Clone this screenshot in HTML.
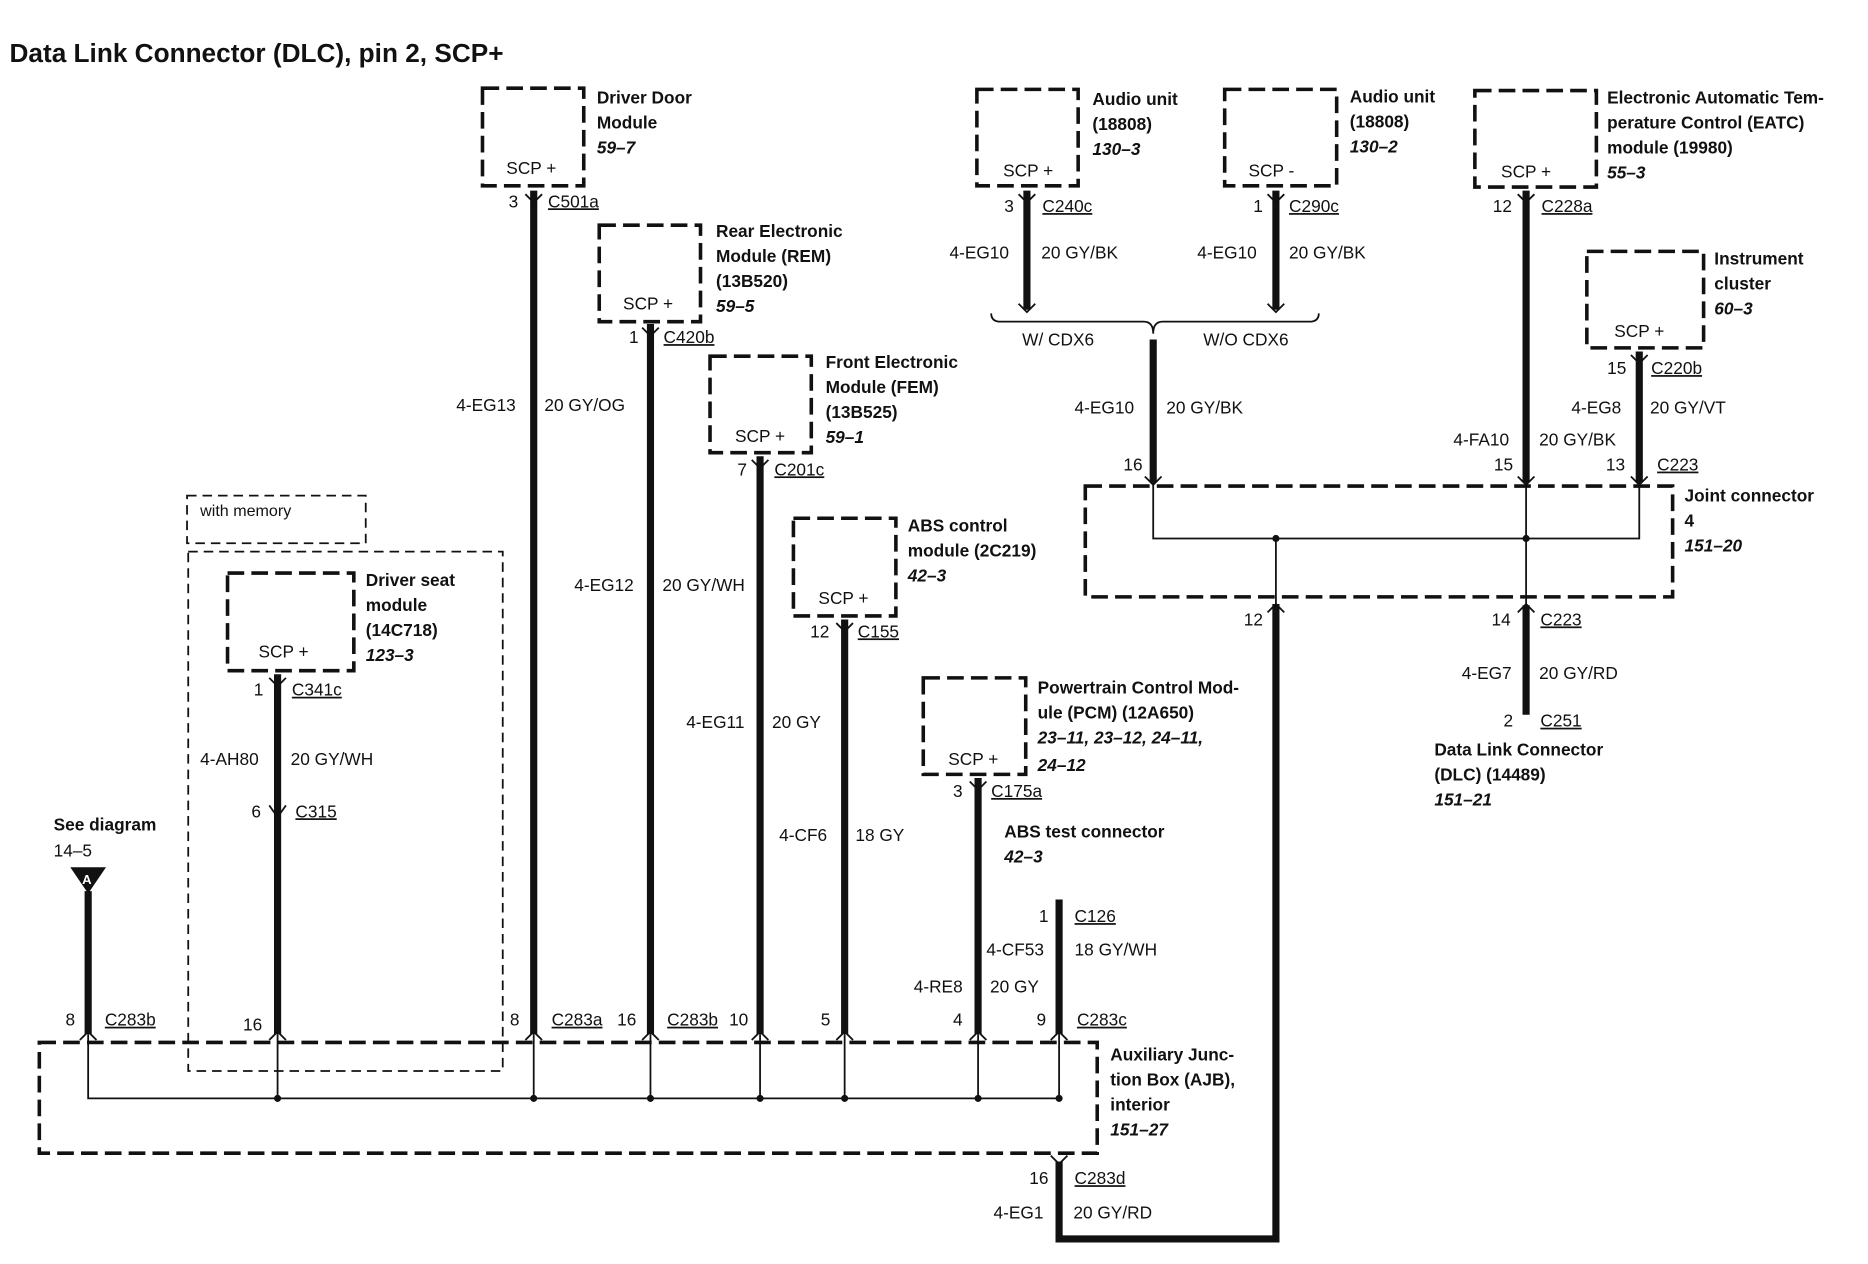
<!DOCTYPE html>
<html><head><meta charset="utf-8"><style>
html,body{margin:0;padding:0;background:#fff}
svg{display:block}
text{font-family:"Liberation Sans",Arial,sans-serif;font-size:14.5px;fill:#111}
.b{font-weight:bold;font-size:14.5px}
.i{font-weight:bold;font-style:italic}
.box{fill:none;stroke:#111;stroke-width:3;stroke-dasharray:14 6}
.thin{fill:none;stroke:#111;stroke-width:1.5;stroke-dasharray:8 5}
.w{stroke:#111;stroke-width:6;fill:none}
.t{stroke:#111;stroke-width:1.5;fill:none}
.u{text-decoration:underline}
</style></head><body>
<svg width="1868" height="1264" viewBox="0 0 1568 1061" preserveAspectRatio="none" xmlns="http://www.w3.org/2000/svg">
<text x="8" y="52" class="b" style="font-size:22px">Data Link Connector (DLC), pin 2, SCP+</text>

<rect class="box" x="405" y="74" width="85" height="82"/>
<text x="425" y="146">SCP +</text>
<text x="501" y="87" class="b">Driver Door</text><text x="501" y="108" class="b">Module</text><text x="501" y="129" class="i">59–7</text>
<text x="427" y="174">3</text><text x="460" y="174" class="u">C501a</text>
<line class="w" x1="448" y1="160" x2="448" y2="868"/>
<text x="383" y="345">4-EG13</text><text x="457" y="345">20 GY/OG</text>

<rect class="box" x="503" y="189" width="85" height="81"/>
<text x="523" y="260">SCP +</text>
<text x="601" y="199" class="b">Rear Electronic</text><text x="601" y="220" class="b">Module (REM)</text><text x="601" y="241" class="b">(13B520)</text><text x="601" y="262" class="i">59–5</text>
<text x="528" y="288">1</text><text x="557" y="288" class="u">C420b</text>
<line class="w" x1="546" y1="272" x2="546" y2="868"/>
<text x="482" y="496">4-EG12</text><text x="556" y="496">20 GY/WH</text>

<rect class="box" x="596" y="299" width="85" height="81"/>
<text x="617" y="371">SCP +</text>
<text x="693" y="309" class="b">Front Electronic</text><text x="693" y="330" class="b">Module (FEM)</text><text x="693" y="351" class="b">(13B525)</text><text x="693" y="372" class="i">59–1</text>
<text x="619" y="399">7</text><text x="650" y="399" class="u">C201c</text>
<line class="w" x1="638" y1="383" x2="638" y2="868"/>
<text x="576" y="611">4-EG11</text><text x="648" y="611">20 GY</text>

<rect class="box" x="666" y="435" width="86" height="82"/>
<text x="687" y="507">SCP +</text>
<text x="762" y="446" class="b">ABS control</text><text x="762" y="467" class="b">module (2C219)</text><text x="762" y="488" class="i">42–3</text>
<text x="680" y="535">12</text><text x="720" y="535" class="u">C155</text>
<line class="w" x1="709" y1="520" x2="709" y2="868"/>
<text x="654" y="706">4-CF6</text><text x="718" y="706">18 GY</text>

<rect class="box" x="775" y="569" width="86" height="81"/>
<text x="796" y="642">SCP +</text>
<text x="871" y="582" class="b">Powertrain Control Mod-</text><text x="871" y="603" class="b">ule (PCM) (12A650)</text><text x="871" y="624" class="i">23–11, 23–12, 24–11,</text><text x="871" y="647" class="i">24–12</text>
<text x="800" y="669">3</text><text x="832" y="669" class="u">C175a</text>
<line class="w" x1="821" y1="653" x2="821" y2="868"/>
<text x="843" y="703" class="b">ABS test connector</text><text x="843" y="724" class="i">42–3</text>

<text x="872" y="774">1</text><text x="902" y="774" class="u">C126</text>
<line class="w" x1="889" y1="755" x2="889" y2="868"/>
<text x="828" y="802">4-CF53</text><text x="902" y="802">18 GY/WH</text>
<text x="767" y="833">4-RE8</text><text x="831" y="833">20 GY</text>

<rect class="thin" x="157" y="416" width="150" height="40"/>
<text x="168" y="433" style="font-size:13.5px">with memory</text>
<rect class="thin" x="158" y="463" width="264" height="436"/>
<rect class="box" x="191" y="481" width="106" height="82"/>
<text x="217" y="552">SCP +</text>
<text x="307" y="492" class="b">Driver seat</text><text x="307" y="513" class="b">module</text><text x="307" y="534" class="b">(14C718)</text><text x="307" y="555" class="i">123–3</text>
<text x="213" y="584">1</text><text x="245" y="584" class="u">C341c</text>
<line class="w" x1="233" y1="566" x2="233" y2="868"/>
<text x="168" y="642">4-AH80</text><text x="244" y="642">20 GY/WH</text>
<text x="211" y="686">6</text><text x="248" y="686" class="u">C315</text>
<polyline class="t" points="226,676 233,686 240,676"/>

<text x="45" y="697" class="b">See diagram</text><text x="45" y="719">14–5</text>
<polygon points="59,728 89,728 74,750" fill="#111"/>
<text x="69" y="742" style="font-size:11px;fill:#fff" class="b">A</text>
<line class="w" x1="74" y1="748" x2="74" y2="868"/>

<rect class="box" x="33" y="875" width="888" height="93"/>
<polyline class="t" points="74,868 74,922 889,922"/>
<g class="t">
<line x1="233" y1="868" x2="233" y2="922"/><line x1="448" y1="868" x2="448" y2="922"/><line x1="546" y1="868" x2="546" y2="922"/><line x1="638" y1="868" x2="638" y2="922"/><line x1="709" y1="868" x2="709" y2="922"/><line x1="821" y1="868" x2="821" y2="922"/><line x1="889" y1="868" x2="889" y2="922"/>
</g>
<g fill="#111"><circle cx="233" cy="922" r="3"/><circle cx="448" cy="922" r="3"/><circle cx="546" cy="922" r="3"/><circle cx="638" cy="922" r="3"/><circle cx="709" cy="922" r="3"/><circle cx="821" cy="922" r="3"/><circle cx="889" cy="922" r="3"/></g>
<text x="55" y="861">8</text><text x="88" y="861" class="u">C283b</text>
<text x="204" y="865">16</text>
<text x="428" y="861">8</text><text x="463" y="861" class="u">C283a</text>
<text x="518" y="861">16</text><text x="560" y="861" class="u">C283b</text><text x="612" y="861">10</text>
<text x="689" y="861">5</text><text x="800" y="861">4</text>
<text x="870" y="861">9</text><text x="904" y="861" class="u">C283c</text>
<text x="932" y="890" class="b">Auxiliary Junc-</text><text x="932" y="911" class="b">tion Box (AJB),</text><text x="932" y="932" class="b">interior</text><text x="932" y="953" class="i">151–27</text>

<text x="864" y="994">16</text><text x="902" y="994" class="u">C283d</text>
<text x="834" y="1023">4-EG1</text><text x="901" y="1023">20 GY/RD</text>
<polyline class="w" points="889,975 889,1040 1071,1040 1071,507"/>

<rect class="box" x="820" y="75" width="85" height="81"/>
<text x="842" y="148">SCP +</text>
<text x="917" y="88" class="b">Audio unit</text><text x="917" y="109" class="b">(18808)</text><text x="917" y="130" class="i">130–3</text>
<text x="843" y="178">3</text><text x="875" y="178" class="u">C240c</text>
<line class="w" x1="862" y1="160" x2="862" y2="260"/>
<text x="797" y="217">4-EG10</text><text x="874" y="217">20 GY/BK</text>

<rect class="box" x="1028" y="75" width="94" height="81"/>
<text x="1048" y="148">SCP -</text>
<text x="1133" y="86" class="b">Audio unit</text><text x="1133" y="107" class="b">(18808)</text><text x="1133" y="128" class="i">130–2</text>
<text x="1052" y="178">1</text><text x="1082" y="178" class="u">C290c</text>
<line class="w" x1="1071" y1="160" x2="1071" y2="260"/>
<text x="1005" y="217">4-EG10</text><text x="1082" y="217">20 GY/BK</text>

<path class="t" d="M832,263 Q832,270 840,270 L960,270 Q968,270 968,280 Q968,270 976,270 L1099,270 Q1107,270 1107,263"/>
<text x="858" y="290">W/ CDX6</text><text x="1010" y="290">W/O CDX6</text>
<line class="w" x1="968" y1="285" x2="968" y2="405"/>
<text x="902" y="347">4-EG10</text><text x="979" y="347">20 GY/BK</text>
<text x="943" y="395">16</text>

<rect class="box" x="1238" y="76" width="102" height="81"/>
<text x="1260" y="149">SCP +</text>
<text x="1349" y="87" class="b">Electronic Automatic Tem-</text><text x="1349" y="108" class="b">perature Control (EATC)</text><text x="1349" y="129" class="b">module (19980)</text><text x="1349" y="150" class="i">55–3</text>
<text x="1253" y="178">12</text><text x="1294" y="178" class="u">C228a</text>
<line class="w" x1="1281" y1="160" x2="1281" y2="405"/>
<text x="1220" y="374">4-FA10</text><text x="1292" y="374">20 GY/BK</text>
<text x="1254" y="395">15</text>

<rect class="box" x="1332" y="211" width="98" height="81"/>
<text x="1355" y="283">SCP +</text>
<text x="1439" y="222" class="b">Instrument</text><text x="1439" y="243" class="b">cluster</text><text x="1439" y="264" class="i">60–3</text>
<text x="1349" y="314">15</text><text x="1386" y="314" class="u">C220b</text>
<line class="w" x1="1376" y1="295" x2="1376" y2="405"/>
<text x="1319" y="347">4-EG8</text><text x="1385" y="347">20 GY/VT</text>
<text x="1348" y="395">13</text><text x="1391" y="395" class="u">C223</text>

<rect class="box" x="911" y="408" width="493" height="93"/>
<polyline class="t" points="968,405 968,452 1376,452 1376,405"/>
<line class="t" x1="1281" y1="405" x2="1281" y2="510"/>
<line class="t" x1="1071" y1="452" x2="1071" y2="510"/>
<circle cx="1071" cy="452" r="3" fill="#111"/><circle cx="1281" cy="452" r="3" fill="#111"/>
<text x="1414" y="421" class="b">Joint connector</text><text x="1414" y="442" class="b">4</text><text x="1414" y="463" class="i">151–20</text>
<text x="1044" y="525">12</text>
<text x="1252" y="525">14</text><text x="1293" y="525" class="u">C223</text>
<line class="w" x1="1281" y1="508" x2="1281" y2="600"/>
<text x="1227" y="570">4-EG7</text><text x="1292" y="570">20 GY/RD</text>
<text x="1262" y="610">2</text><text x="1293" y="610" class="u">C251</text>
<text x="1204" y="634" class="b">Data Link Connector</text><text x="1204" y="655" class="b">(DLC) (14489)</text><text x="1204" y="676" class="i">151–21</text>

<g class="t">
<polyline points="441,163 448,170 455,163"/><polyline points="539,275 546,282 553,275"/><polyline points="631,386 638,393 645,386"/><polyline points="702,523 709,530 716,523"/><polyline points="814,656 821,663 828,656"/><polyline points="226,569 233,576 240,569"/>
<polyline points="855,163 862,170 869,163"/><polyline points="1064,163 1071,170 1078,163"/><polyline points="1274,163 1281,170 1288,163"/><polyline points="1369,298 1376,305 1383,298"/>
<polyline points="855,255 862,262 869,255"/><polyline points="1064,255 1071,262 1078,255"/>
<polyline points="961,400 968,407 975,400"/><polyline points="1274,400 1281,407 1288,400"/><polyline points="1369,400 1376,407 1383,400"/>
<polyline points="1064,514 1071,507 1078,514"/><polyline points="1274,514 1281,507 1288,514"/>
<polyline points="67,873 74,866 81,873"/><polyline points="226,873 233,866 240,873"/><polyline points="441,873 448,866 455,873"/><polyline points="539,873 546,866 553,873"/><polyline points="631,873 638,866 645,873"/><polyline points="702,873 709,866 716,873"/><polyline points="814,873 821,866 828,873"/><polyline points="882,873 889,866 896,873"/><polyline points="882,970 889,977 896,970"/>
</g>
</svg>
</body></html>
